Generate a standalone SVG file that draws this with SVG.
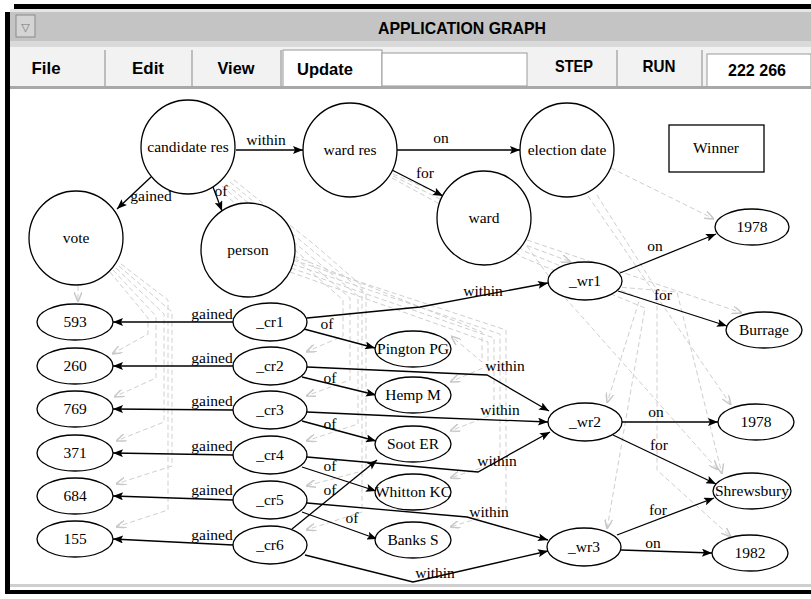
<svg xmlns="http://www.w3.org/2000/svg" width="811" height="599" viewBox="0 0 811 599">
  <defs>
    <marker id="arr" viewBox="0 0 10 8" refX="10" refY="4" markerWidth="11" markerHeight="8" markerUnits="userSpaceOnUse" orient="auto">
      <path d="M0,0 L10,4 L0,8 L2,4 z" fill="#000"/>
    </marker>
    <marker id="garr" viewBox="0 0 10 8" refX="10" refY="4" markerWidth="10" markerHeight="8" markerUnits="userSpaceOnUse" orient="auto">
      <path d="M0,0 L10,4 L0,8" fill="none" stroke="#c8c8c8" stroke-width="1.5"/>
    </marker>
    <style>
      .nd { fill: #fff; stroke: #000; stroke-width: 1.3; }
      .nt { font-family: "Liberation Serif", "DejaVu Serif", serif; font-size: 15.5px; fill: #000; text-anchor: middle; }
      .el { font-family: "Liberation Serif", "DejaVu Serif", serif; font-size: 15.5px; fill: #000; text-anchor: middle; }
      .e { fill: none; stroke: #000; stroke-width: 1.3; marker-end: url(#arr); }
      .g { fill: none; stroke: #cfcfcf; stroke-width: 1; stroke-dasharray: 5 3; marker-end: url(#garr); }
      .mn { font-family: "Liberation Sans", Arial, sans-serif; font-weight: bold; font-size: 17px; fill: #000; text-anchor: middle; }
      .ttl { font-family: "Liberation Sans", Arial, sans-serif; font-weight: bold; font-size: 17px; fill: #000; text-anchor: middle; }
    </style>
  </defs>

  <!-- window frame -->
  <rect x="0" y="0" width="811" height="599" fill="#fff"/>
  <rect x="14" y="4" width="797" height="5" fill="#000"/>
  <rect x="5" y="12" width="5" height="580" fill="#000"/>
  <rect x="10" y="9" width="801" height="3" fill="#e6e6e6"/>
  <rect x="10" y="12" width="801" height="29" fill="#c4c4c4"/>
  <rect x="10" y="41" width="801" height="6" fill="#dadada"/>
  <!-- title bar control -->
  <rect x="16" y="15" width="19" height="22" fill="#d4d4d4" stroke="#8a8a8a" stroke-width="1"/>
  <text x="25.5" y="31" font-family="DejaVu Sans, sans-serif" font-size="11" fill="#777" text-anchor="middle">▽</text>
  <text class="ttl" x="462" y="34" textLength="168" lengthAdjust="spacingAndGlyphs">APPLICATION GRAPH</text>

  <!-- menu bar -->
  <rect x="10" y="47" width="801" height="41" fill="#f2f2f2"/>
  <rect x="283" y="50" width="99" height="38" fill="#fff" stroke="#9a9a9a" stroke-width="1"/>
  <rect x="382" y="53" width="145" height="33" fill="#fff" stroke="#9a9a9a" stroke-width="1"/>
  <rect x="707" y="54" width="104" height="34" fill="#fff" stroke="#9a9a9a" stroke-width="1"/>
  <g stroke="#9a9a9a" stroke-width="1.2">
    <line x1="105" y1="50" x2="105" y2="88"/>
    <line x1="192" y1="50" x2="192" y2="88"/>
    <line x1="281" y1="50" x2="281" y2="88"/>
    <line x1="617" y1="50" x2="617" y2="88"/>
    <line x1="702" y1="50" x2="702" y2="88"/>
  </g>
  <rect x="10" y="86" width="801" height="3" fill="#a8a8a8"/>
  <text class="mn" x="46" y="74" textLength="29" lengthAdjust="spacingAndGlyphs">File</text>
  <text class="mn" x="148" y="74" textLength="32" lengthAdjust="spacingAndGlyphs">Edit</text>
  <text class="mn" x="236" y="74" textLength="37" lengthAdjust="spacingAndGlyphs">View</text>
  <text class="mn" x="325" y="75" textLength="56" lengthAdjust="spacingAndGlyphs">Update</text>
  <text class="mn" x="574" y="72" textLength="38" lengthAdjust="spacingAndGlyphs">STEP</text>
  <text class="mn" x="659" y="72" textLength="33" lengthAdjust="spacingAndGlyphs">RUN</text>
  <text class="mn" x="757" y="76" textLength="58" lengthAdjust="spacingAndGlyphs">222 266</text>

  <!-- canvas lower edge -->
  <rect x="10" y="584" width="801" height="3" fill="#cfcfcf"/>
  <rect x="5" y="590" width="806" height="4" fill="#000"/>

  <!-- class-to-instance links -->
  <g id="type-links">
    <path class="g" d="M78,286 L78,302"/>
    <path class="g" d="M110,272 L148,318 L148,334 L112,354"/>
    <path class="g" d="M113,270 L156,316 L156,378 L114,397"/>
    <path class="g" d="M116,268 L164,314 L164,422 L116,441"/>
    <path class="g" d="M119,266 L172,312 L172,466 L116,484"/>
    <path class="g" d="M121,264 L168,300 L168,510 L116,527"/>
    <path class="g" d="M218,188 L300,262 L343,300 L343,336 L306,352"/>
    <path class="g" d="M222,186 L304,258 L350,298 L350,380 L306,396"/>
    <path class="g" d="M226,184 L308,254 L358,296 L358,424 L306,441"/>
    <path class="g" d="M230,182 L312,250 L366,294 L366,470 L306,486"/>
    <path class="g" d="M234,180 L316,246 L362,286 L362,512 L306,530"/>
    <path class="g" d="M290,272 L488,342 L488,366 L450,382"/>
    <path class="g" d="M291,268 L494,338 L494,414 L450,431"/>
    <path class="g" d="M292,264 L500,334 L500,462 L450,478"/>
    <path class="g" d="M293,260 L506,330 L506,510 L450,527"/>
    <path class="g" d="M294,256 L482,332 L482,362 L451,336"/>
    <path class="g" d="M393,174 L440,194 L528,246 L571,262"/>
    <path class="g" d="M393,176 L438,198 L526,252 L640,298 L607,403"/>
    <path class="g" d="M392,178 L436,202 L524,258 L645,308 L607,529"/>
    <path class="g" d="M611,168 L714,219"/>
    <path class="g" d="M588,196 L731,405"/>
    <path class="g" d="M597,195 L657,290 L657,470 L731,537"/>
    <path class="g" d="M527,240 L742,313"/>
    <path class="g" d="M527,246 L560,292 L718,470"/>
    <path class="g" d="M606,286 L677,292 L722,474"/>
  </g>

  <!-- relation links -->
  <g id="connectors">
    <path class="e" d="M236,150 L303,150"/>
    <path class="e" d="M397,150 L520,150"/>
    <path class="e" d="M392,170 L443,196"/>
    <path class="e" d="M151,177 L117,209"/>
    <path class="e" d="M213,187 L222,211"/>
    <path class="e" d="M620,273 L716,234"/>
    <path class="e" d="M618,291 L727,326"/>
    <path class="e" d="M307,318 L420,307 L548,283"/>
    <path class="e" d="M304,329 L375,348"/>
    <path class="e" d="M307,367 L487,375 L549,411"/>
    <path class="e" d="M302,377 L376,395"/>
    <path class="e" d="M307,412 L417,417 L548,422"/>
    <path class="e" d="M302,421 L376,441"/>
    <path class="e" d="M307,457 L478,472 L550,432"/>
    <path class="e" d="M302,467 L376,491"/>
    <path class="e" d="M307,503 L467,517 L548,540"/>
    <path class="e" d="M302,512 L377,539"/>
    <path class="e" d="M292,529 L377,460"/>
    <path class="e" d="M305,555 L413,582 L548,551"/>
    <path class="e" d="M622,422 L718,422"/>
    <path class="e" d="M613,435 L716,484"/>
    <path class="e" d="M617,535 L714,498"/>
    <path class="e" d="M621,550 L712,553"/>
    <path class="e" d="M233,322 L113,322"/>
    <path class="e" d="M233,366 L113,366"/>
    <path class="e" d="M233,410 L113,409"/>
    <path class="e" d="M233,455 L113,453"/>
    <path class="e" d="M233,500 L113,496"/>
    <path class="e" d="M233,545 L113,539"/>
  </g>

  <!-- link labels -->
  <g id="labels">
    <text class="el" x="266" y="145">within</text>
    <text class="el" x="441" y="143">on</text>
    <text class="el" x="425" y="178">for</text>
    <text class="el" x="151" y="201">gained</text>
    <text class="el" x="221" y="196">of</text>
    <text class="el" x="655" y="251">on</text>
    <text class="el" x="663" y="300">for</text>
    <text class="el" x="483" y="296">within</text>
    <text class="el" x="327" y="329">of</text>
    <text class="el" x="505" y="371">within</text>
    <text class="el" x="330" y="383">of</text>
    <text class="el" x="500" y="415">within</text>
    <text class="el" x="330" y="429">of</text>
    <text class="el" x="497" y="466">within</text>
    <text class="el" x="330" y="471">of</text>
    <text class="el" x="489" y="517">within</text>
    <text class="el" x="352" y="523">of</text>
    <text class="el" x="330" y="495">of</text>
    <text class="el" x="435" y="578">within</text>
    <text class="el" x="656" y="417">on</text>
    <text class="el" x="659" y="450">for</text>
    <text class="el" x="658" y="515">for</text>
    <text class="el" x="653" y="548">on</text>
    <text class="el" x="212" y="319">gained</text>
    <text class="el" x="212" y="363">gained</text>
    <text class="el" x="212" y="406">gained</text>
    <text class="el" x="212" y="451">gained</text>
    <text class="el" x="212" y="495">gained</text>
    <text class="el" x="212" y="540">gained</text>
  </g>

  <!-- class nodes -->
  <g id="candidate-res"><circle class="nd" cx="188" cy="147" r="47"/><text class="nt" x="188" y="152">candidate res</text></g>
  <g id="ward-res"><circle class="nd" cx="350" cy="150" r="47"/><text class="nt" x="350" y="155">ward res</text></g>
  <g id="election-date"><circle class="nd" cx="567" cy="150" r="47"/><text class="nt" x="567" y="155">election date</text></g>
  <g id="vote"><circle class="nd" cx="76" cy="238" r="47"/><text class="nt" x="76" y="243">vote</text></g>
  <g id="person"><circle class="nd" cx="248" cy="250" r="47"/><text class="nt" x="248" y="255">person</text></g>
  <g id="ward"><circle class="nd" cx="484" cy="218" r="47"/><text class="nt" x="484" y="223">ward</text></g>
  <g id="winner"><rect class="nd" x="669" y="125" width="95" height="47"/><text class="nt" x="716" y="153">Winner</text></g>

  <!-- vote values -->
  <g id="v593"><ellipse class="nd" cx="75" cy="322" rx="38" ry="18"/><text class="nt" x="75" y="327">593</text></g>
  <g id="v260"><ellipse class="nd" cx="75" cy="366" rx="38" ry="18"/><text class="nt" x="75" y="371">260</text></g>
  <g id="v769"><ellipse class="nd" cx="75" cy="409" rx="38" ry="18"/><text class="nt" x="75" y="414">769</text></g>
  <g id="v371"><ellipse class="nd" cx="75" cy="453" rx="38" ry="18"/><text class="nt" x="75" y="458">371</text></g>
  <g id="v684"><ellipse class="nd" cx="75" cy="496" rx="38" ry="18"/><text class="nt" x="75" y="501">684</text></g>
  <g id="v155"><ellipse class="nd" cx="75" cy="539" rx="38" ry="18"/><text class="nt" x="75" y="544">155</text></g>

  <!-- candidate results -->
  <g id="cr1"><ellipse class="nd" cx="270" cy="322" rx="37" ry="19"/><text class="nt" x="270" y="327">_cr1</text></g>
  <g id="cr2"><ellipse class="nd" cx="270" cy="366" rx="37" ry="19"/><text class="nt" x="270" y="371">_cr2</text></g>
  <g id="cr3"><ellipse class="nd" cx="270" cy="410" rx="37" ry="19"/><text class="nt" x="270" y="415">_cr3</text></g>
  <g id="cr4"><ellipse class="nd" cx="270" cy="455" rx="37" ry="19"/><text class="nt" x="270" y="460">_cr4</text></g>
  <g id="cr5"><ellipse class="nd" cx="270" cy="500" rx="37" ry="19"/><text class="nt" x="270" y="505">_cr5</text></g>
  <g id="cr6"><ellipse class="nd" cx="270" cy="545" rx="37" ry="19"/><text class="nt" x="270" y="550">_cr6</text></g>

  <!-- candidates -->
  <g id="pington"><ellipse class="nd" cx="413" cy="349" rx="38" ry="18"/><text class="nt" x="413" y="354">Pington PG</text></g>
  <g id="hemp"><ellipse class="nd" cx="413" cy="395" rx="38" ry="18"/><text class="nt" x="413" y="400">Hemp M</text></g>
  <g id="soot"><ellipse class="nd" cx="413" cy="444" rx="38" ry="18"/><text class="nt" x="413" y="449">Soot ER</text></g>
  <g id="whitton"><ellipse class="nd" cx="413" cy="492" rx="38" ry="18"/><text class="nt" x="413" y="497">Whitton KC</text></g>
  <g id="banks"><ellipse class="nd" cx="413" cy="540" rx="38" ry="18"/><text class="nt" x="413" y="545">Banks S</text></g>

  <!-- ward results -->
  <g id="wr1"><ellipse class="nd" cx="585" cy="281" rx="37" ry="19"/><text class="nt" x="585" y="286">_wr1</text></g>
  <g id="wr2"><ellipse class="nd" cx="585" cy="422" rx="37" ry="19"/><text class="nt" x="585" y="427">_wr2</text></g>
  <g id="wr3"><ellipse class="nd" cx="584" cy="547" rx="37" ry="19"/><text class="nt" x="584" y="552">_wr3</text></g>

  <!-- dates and wards -->
  <g id="d1978a"><ellipse class="nd" cx="752" cy="227" rx="37" ry="18"/><text class="nt" x="752" y="232">1978</text></g>
  <g id="burrage"><ellipse class="nd" cx="764" cy="330" rx="38" ry="18"/><text class="nt" x="764" y="335">Burrage</text></g>
  <g id="d1978b"><ellipse class="nd" cx="756" cy="422" rx="38" ry="18"/><text class="nt" x="756" y="427">1978</text></g>
  <g id="shrewsbury"><ellipse class="nd" cx="752" cy="491" rx="39" ry="18"/><text class="nt" x="752" y="496">Shrewsbury</text></g>
  <g id="d1982"><ellipse class="nd" cx="750" cy="553" rx="38" ry="18"/><text class="nt" x="750" y="558">1982</text></g>
</svg>
